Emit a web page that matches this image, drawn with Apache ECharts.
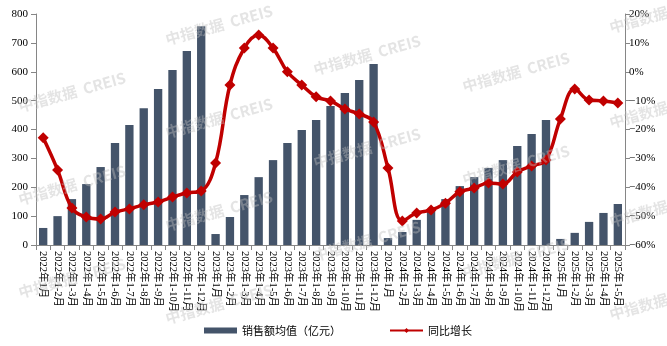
<!DOCTYPE html>
<html><head><meta charset="utf-8">
<script src="https://cdn.jsdelivr.net/npm/echarts@6/dist/echarts.min.js"></script>
<style>html,body{margin:0;padding:0;background:#fff}#c{width:667px;height:346px}</style>
</head><body><div id="c"></div>
<script>
const categories = [
 '2022年1月','2022年1-2月','2022年1-3月','2022年1-4月','2022年1-5月','2022年1-6月','2022年1-7月','2022年1-8月','2022年1-9月','2022年1-10月','2022年1-11月','2022年1-12月',
 '2023年1月','2023年1-2月','2023年1-3月','2023年1-4月','2023年1-5月','2023年1-6月','2023年1-7月','2023年1-8月','2023年1-9月','2023年1-10月','2023年1-11月','2023年1-12月',
 '2024年1月','2024年1-2月','2024年1-3月','2024年1-4月','2024年1-5月','2024年1-6月','2024年1-7月','2024年1-8月','2024年1-9月','2024年1-10月','2024年1-11月','2024年1-12月',
 '2025年1月','2025年1-2月','2025年1-3月','2025年1-4月','2025年1-5月'
];
const salesAvg = [59,100,159,211,270,353,416,474,540,606,672,758,
 38,97,173,235,294,353,398,433,481,526,571,627,
 24,45,87,125,159,204,235,267,294,343,384,433,
 21,42,80,111,142];
const yoy = [-22.9,-34,-47.2,-50.3,-51,-48.6,-47.5,-46.1,-45.1,-43.4,-42,-41.3,
 -31.6,-4.6,8.2,12.7,8.2,0,-4.6,-8.7,-10.1,-12.9,-14.6,-17.4,
 -33.3,-51.7,-48.9,-47.9,-45.5,-41.6,-40.3,-38.5,-38.9,-34.7,-32.6,-30.6,
 -16.4,-6,-9.8,-10.1,-10.8];
const leftTicks = {min:0,max:800,interval:100};
const rightTicks = {min:-60,max:20,interval:10};
const seriesNames = ['销售额均值（亿元）','同比增长'];

const wmPos = [[72,92],[72,185],[72,278],[219,25],[219,118],[219,211],[219,304],[367,55],[367,148],[367,241],[516,72],[516,165],[516,258],[663,13],[663,108],[663,207],[663,300]];
const graphic = wmPos.map(p=>({type:'text',x:p[0],y:p[1],rotation:0.27,z:100,silent:true,
  style:{text:'中指数据  CREIS',fill:'rgba(190,190,190,0.42)',font:'bold 15px "Noto Sans CJK SC", sans-serif',align:'center',verticalAlign:'middle'}}));

const chart = echarts.init(document.getElementById('c'),null,{renderer:'canvas'});
const font = '"Liberation Serif","Noto Sans CJK SC",serif';
chart.setOption({
  animation:false,
  grid:{left:36,right:42,top:14,bottom:101,containLabel:false},
  graphic:graphic,
  legend:{bottom:5,left:199,itemGap:48,textStyle:{fontSize:11,color:'#000',fontFamily:'"Noto Sans CJK SC",sans-serif'},
    data:[{name:seriesNames[0],icon:'rect',itemStyle:{color:'#44546a'}},{name:seriesNames[1]}],
    itemWidth:33,itemHeight:6},
  xAxis:{type:'category',data:categories,boundaryGap:true,
    axisLine:{lineStyle:{color:'#868686',width:1}},
    axisTick:{show:true,alignWithLabel:false,length:5,lineStyle:{color:'#868686'}},
    axisLabel:{rotate:-90,interval:0,fontSize:10.5,color:'#000',margin:6,fontFamily:font}},
  yAxis:[
   {type:'value',min:leftTicks.min,max:leftTicks.max,interval:leftTicks.interval,
    axisLine:{show:true,lineStyle:{color:'#868686'}},axisTick:{show:true,length:5,lineStyle:{color:'#868686'}},
    splitLine:{show:false},axisLabel:{fontSize:11,color:'#000',margin:8,fontFamily:font}},
   {type:'value',min:rightTicks.min,max:rightTicks.max,interval:rightTicks.interval,position:'right',
    axisLine:{show:true,lineStyle:{color:'#868686'}},axisTick:{show:true,length:5,lineStyle:{color:'#868686'}},
    splitLine:{show:false},axisLabel:{fontSize:11,color:'#000',margin:4,fontFamily:font,
      formatter:v=>(v<0?'\u2212'+(-v):v)+'%'}}
  ],
  series:[
   {name:seriesNames[0],type:'bar',data:salesAvg,barWidth:'58%',itemStyle:{color:'#44546a'},yAxisIndex:0},
   {name:seriesNames[1],type:'line',data:yoy,yAxisIndex:1,smooth:0.4,symbol:'diamond',symbolSize:11,
    lineStyle:{color:'#c00000',width:3.5},itemStyle:{color:'#c00000'},z:5}
  ]
});
</script></body></html>
